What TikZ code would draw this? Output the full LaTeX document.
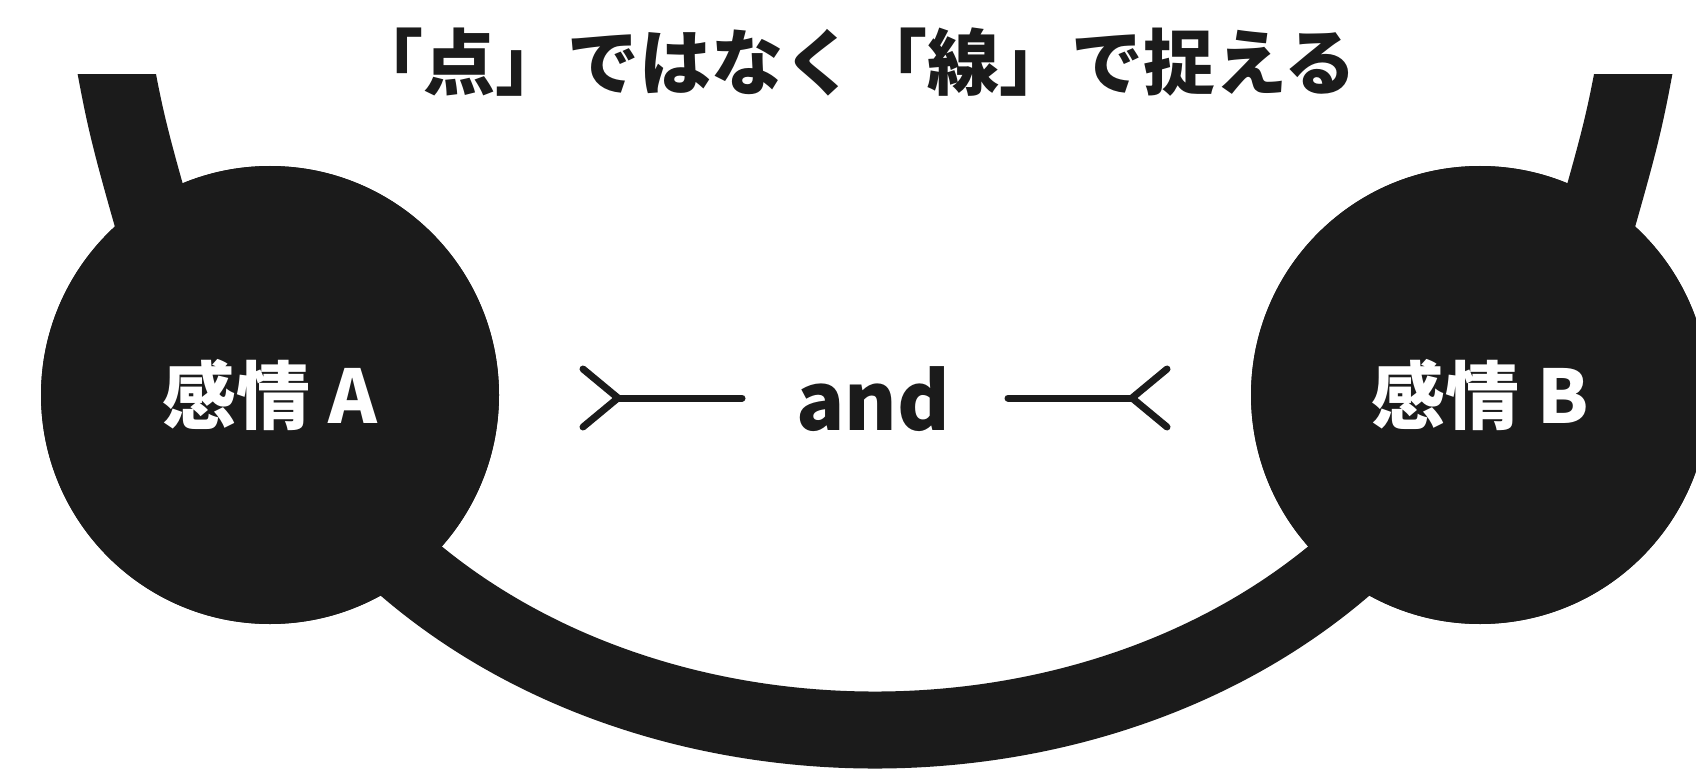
\documentclass[tikz,border=0pt]{standalone}
\usepackage{fontspec}
\newfontfamily\jp{Noto Sans CJK JP}
\definecolor{ink}{HTML}{1B1B1B}
\begin{document}
\begin{tikzpicture}[x=1pt,y=-1pt,
  blob/.style={circle, fill=ink, minimum size=458pt, inner sep=0pt},
  lbl/.style={text=white, inner sep=0pt, font=\jp\bfseries\fontsize{74pt}{74pt}\selectfont},
  forkline/.style={draw=ink, line width=7pt, line cap=round, line join=miter},
  band/.style={draw=ink, line width=77pt}]
\useasboundingbox (0,0) rectangle (1696,770);
\clip (0,0) rectangle (1696,770);
\fill[white] (0,0) rectangle (1696,770);
\node[blob] (A) at (270,395) {};
\node[blob] (B) at (1480,395) {};
% stems (free ends above the cut line)
\coordinate (sa) at (110.5,40);
\coordinate (sa2) at (176,300);
\coordinate (sb) at (1639.5,40);
\coordinate (sb2) at (1574,300);
\begin{scope}
  \clip (0,75) rectangle (1696,770);
  \draw[band] (sa) .. controls (127,130) .. (sa2);
  \draw[band] (sb) .. controls (1623,130) .. (sb2);
\end{scope}
% bottom band from A to B
\draw[band] (A.center) .. controls (500,841.7) and (1250,841.7) .. (B.center);
\fill[ink] (A) circle (229);
\fill[ink] (B) circle (229);
\node[lbl] (la) at (A) {感情\hspace{0.24em}A};
\node[lbl] (lb) at (B) {感情\hspace{0.24em}B};
\node[text=ink, anchor=base, inner sep=0pt, font=\jp\bfseries\fontsize{72pt}{72pt}\selectfont] (title) at (854,90) {「点」ではなく「線」で捉える};
\node[text=ink, anchor=base, inner sep=0pt, font=\jp\bfseries\fontsize{80pt}{80pt}\selectfont] (and) at (873,430) {and};
\coordinate (jl) at (618,398);
\coordinate (tlu) at (583,369);
\coordinate (tll) at (583,427);
\coordinate (el) at (742,398);
\coordinate (jr) at (1132,398);
\coordinate (tru) at (1167,369);
\coordinate (trl) at (1167,427);
\coordinate (er) at (1008,398);
\draw[forkline] (tlu) -- (jl) -- (tll);
\draw[forkline] (jl) -- (el);
\draw[forkline] (tru) -- (jr) -- (trl);
\draw[forkline] (jr) -- (er);
\end{tikzpicture}
\end{document}
